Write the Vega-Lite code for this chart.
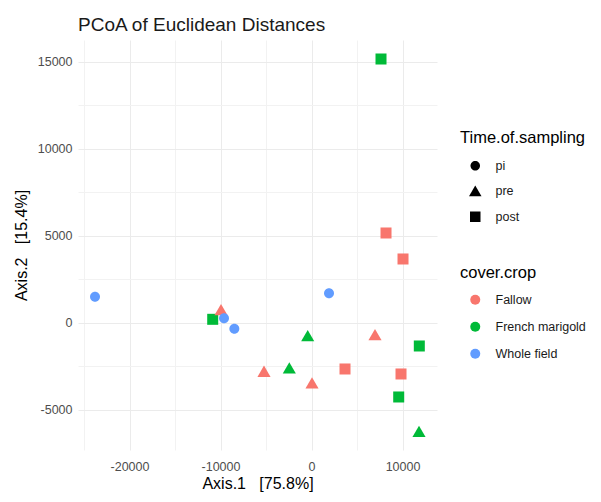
{
  "$schema": "https://vega.github.io/schema/vega-lite/v6.json",
  "width": 359,
  "height": 410,
  "autosize": {"type": "none"},
  "padding": {"left": 78, "top": 40, "right": 164, "bottom": 52},
  "background": "white",
  "title": {
    "text": "PCoA of Euclidean Distances",
    "anchor": "start",
    "frame": "group",
    "fontSize": 19,
    "fontWeight": "normal",
    "font": "Liberation Sans",
    "color": "#1a1a1a",
    "offset": 5
  },
  "config": {
    "font": "Liberation Sans",
    "view": {"stroke": null},
    "axis": {
      "labelFont": "Liberation Sans",
      "titleFont": "Liberation Sans"
    }
  },
  "data": {
    "values": [
      {"x": 7637, "y": 15172, "crop": "French marigold", "time": "post"},
      {"x": 8187, "y": 5172, "crop": "Fallow", "time": "post"},
      {"x": 10055, "y": 3678, "crop": "Fallow", "time": "post"},
      {"x": -23791, "y": 1511, "crop": "Whole field", "time": "pi"},
      {"x": -10857, "y": 211, "crop": "French marigold", "time": "post"},
      {"x": -9945, "y": 747, "crop": "Fallow", "time": "pre"},
      {"x": -9615, "y": 268, "crop": "Whole field", "time": "pi"},
      {"x": -8480, "y": -326, "crop": "Whole field", "time": "pi"},
      {"x": 1923, "y": 1705, "crop": "Whole field", "time": "pi"},
      {"x": -418, "y": -747, "crop": "French marigold", "time": "pre"},
      {"x": 6978, "y": -690, "crop": "Fallow", "time": "pre"},
      {"x": 11846, "y": -1322, "crop": "French marigold", "time": "post"},
      {"x": -5220, "y": -2797, "crop": "Fallow", "time": "pre"},
      {"x": -2440, "y": -2605, "crop": "French marigold", "time": "pre"},
      {"x": 55, "y": -3467, "crop": "Fallow", "time": "pre"},
      {"x": 3681, "y": -2644, "crop": "Fallow", "time": "post"},
      {"x": 9835, "y": -2931, "crop": "Fallow", "time": "post"},
      {"x": 9582, "y": -4253, "crop": "French marigold", "time": "post"},
      {"x": 11813, "y": -6247, "crop": "French marigold", "time": "pre"}
    ]
  },
  "mark": {"type": "point", "filled": true, "opacity": 1, "size": 110},
  "encoding": {
    "x": {
      "field": "x",
      "type": "quantitative",
      "scale": {"domain": [-25660, 13790], "nice": false, "zero": false},
      "axis": {
        "title": "Axis.1\u00a0\u00a0\u00a0[75.8%]",
        "values": [-25000, -20000, -15000, -10000, -5000, 0, 5000, 10000],
        "labelExpr": "datum.value % 10000 === 0 ? '' + datum.value : ''",
        "ticks": false,
        "domain": false,
        "grid": true,
        "gridColor": {"condition": {"test": "datum.value % 10000 === 0", "value": "#ebebeb"}, "value": "#f2f2f2"},
        "gridWidth": 1,
        "labelColor": "#4d4d4d",
        "labelFontSize": 12.5,
        "labelPadding": 10,
        "titleColor": "#000000",
        "titleFontSize": 16,
        "titleFontWeight": "normal",
        "titlePadding": 3
      }
    },
    "y": {
      "field": "y",
      "type": "quantitative",
      "scale": {"domain": [-7300, 16264], "nice": false, "zero": false},
      "axis": {
        "title": "Axis.2\u00a0\u00a0\u00a0[15.4%]",
        "values": [-7500, -5000, -2500, 0, 2500, 5000, 7500, 10000, 12500, 15000],
        "labelExpr": "datum.value % 5000 === 0 ? '' + datum.value : ''",
        "ticks": false,
        "domain": false,
        "grid": true,
        "gridColor": {"condition": {"test": "datum.value % 5000 === 0", "value": "#ebebeb"}, "value": "#f2f2f2"},
        "gridWidth": 1,
        "labelColor": "#4d4d4d",
        "labelFontSize": 12.5,
        "labelPadding": 6,
        "titleColor": "#000000",
        "titleFontSize": 16,
        "titleFontWeight": "normal",
        "titlePadding": 8
      }
    },
    "shape": {
      "field": "time",
      "type": "nominal",
      "scale": {
        "domain": ["pi", "pre", "post"],
        "range": [
          "M0.95,0A0.95,0.95,0,1,1,-0.95,0A0.95,0.95,0,1,1,0.95,0Z",
          "M0,-1.15L1.25,1L-1.25,1Z",
          "M-1.05,-1.05H1.05V1.05H-1.05Z"
        ]
      },
      "legend": {
        "title": "Time.of.sampling",
        "orient": "none",
        "legendX": 382,
        "legendY": 90,
        "titleFontSize": 16.5,
        "titleFontWeight": "normal",
        "titleColor": "#000000",
        "titlePadding": 13,
        "labelFontSize": 12.5,
        "labelColor": "#1a1a1a",
        "symbolFillColor": "black",
        "symbolStrokeColor": "black",
        "symbolStrokeWidth": 0,
        "symbolSize": 100,
        "symbolOffset": 9,
        "labelOffset": 14,
        "rowPadding": 12.5
      }
    },
    "color": {
      "field": "crop",
      "type": "nominal",
      "scale": {"domain": ["Fallow", "French marigold", "Whole field"], "range": ["#F8766D", "#00BA38", "#619CFF"]},
      "legend": {
        "title": "cover.crop",
        "orient": "none",
        "legendX": 382,
        "legendY": 225,
        "titleFontSize": 16.5,
        "titleFontWeight": "normal",
        "titleColor": "#000000",
        "titlePadding": 12,
        "labelFontSize": 12.5,
        "labelColor": "#1a1a1a",
        "symbolType": "circle",
        "symbolSize": 100,
        "symbolOffset": 9,
        "labelOffset": 14,
        "rowPadding": 14
      }
    }
  }
}
